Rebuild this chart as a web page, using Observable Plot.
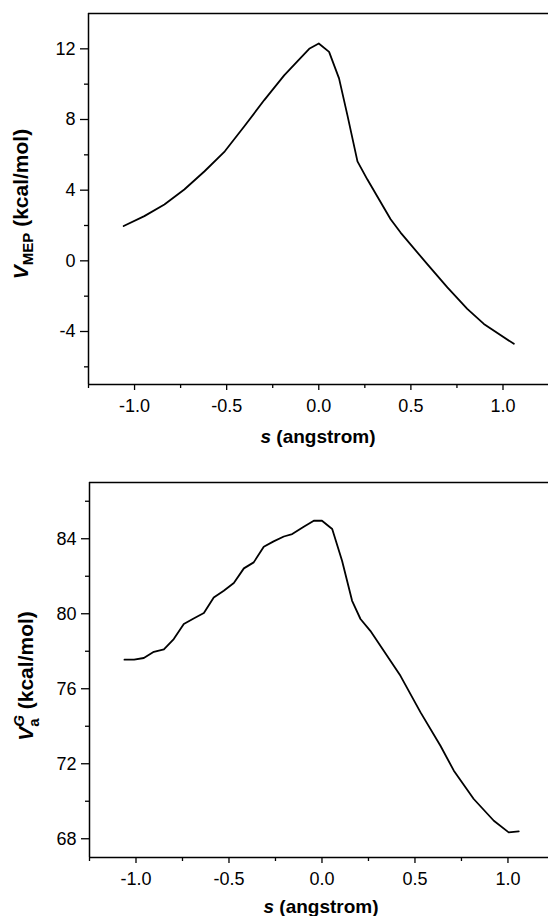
<!DOCTYPE html>
<html>
<head>
<meta charset="utf-8">
<script src="https://cdn.jsdelivr.net/npm/d3@7"></script>
<script src="https://cdn.jsdelivr.net/npm/@observablehq/plot@0.6"></script>
<style>
  html, body { margin: 0; padding: 0; background: #fff; overflow: hidden; }
  svg { display: block; }
</style>
</head>
<body>
<div id="c"></div>
<script>
// Top panel: V_MEP vs s
const sMEP = [-1.059, -0.947, -0.838, -0.73, -0.62, -0.51, -0.405, -0.296, -0.188, -0.115, -0.052, 0.0, 0.056, 0.11, 0.155, 0.21, 0.264, 0.39, 0.444, 0.589, 0.698, 0.806, 0.896, 1.059];
const vMEP = [1.97, 2.53, 3.19, 4.04, 5.07, 6.2, 7.6, 9.1, 10.5, 11.3, 12.0, 12.3, 11.83, 10.33, 8.26, 5.63, 4.6, 2.35, 1.6, -0.19, -1.5, -2.72, -3.57, -4.7];

// Bottom panel: V_a^G vs s
const sVaG = [-1.062, -1.01, -0.958, -0.904, -0.85, -0.797, -0.743, -0.69, -0.635, -0.582, -0.528, -0.474, -0.42, -0.367, -0.313, -0.26, -0.205, -0.16, -0.098, -0.044, 0.0, 0.055, 0.108, 0.162, 0.207, 0.26, 0.422, 0.53, 0.637, 0.709, 0.816, 0.924, 1.004, 1.058];
const vVaG = [77.55, 77.55, 77.64, 77.97, 78.1, 78.65, 79.45, 79.75, 80.04, 80.87, 81.23, 81.64, 82.42, 82.74, 83.57, 83.86, 84.12, 84.25, 84.64, 84.96, 84.96, 84.52, 82.83, 80.69, 79.72, 79.09, 76.69, 74.74, 72.96, 71.63, 70.12, 68.96, 68.34, 68.39];

const xMajor = [-1.0, -0.5, 0.0, 0.5, 1.0];
const xMinor = [-1.25, -0.75, -0.25, 0.25, 0.75];
const yMajorTop = [-4, 0, 4, 8, 12];
const yMinorTop = [-6, -2, 2, 6, 10];
const yMajorBot = [68, 72, 76, 80, 84];
const yMinorBot = [70, 74, 78, 82, 86];

const FONT = "'Liberation Sans', Arial, Helvetica, sans-serif";

function panel(o) {
  const data = o.s.map((s, i) => ({s, v: o.v[i]}));
  const svg = Plot.plot({
    width: 548,
    height: o.height,
    marginLeft: o.marginLeft,
    marginRight: 0,
    marginTop: o.marginTop,
    marginBottom: o.marginBottom,
    style: {fontFamily: FONT, fontSize: "18px", background: "#fff", color: "#000"},
    x: {domain: o.xdomain, label: null},
    y: {domain: o.ydomain, label: null},
    marks: [
      Plot.axisY({ticks: o.yMajor, tickSize: 8, tickPadding: 5, tickFormat: d => String(d), label: null, strokeWidth: 1.3}),
      Plot.axisY({ticks: o.yMinor, tickSize: 4, tickFormat: () => "", label: null, strokeWidth: 1.3}),
      Plot.axisX({ticks: xMajor, tickSize: 6, tickPadding: 9, tickFormat: d => d.toFixed(1), label: null, strokeWidth: 1.3}),
      Plot.axisX({ticks: xMinor, tickSize: 4, tickFormat: () => "", label: null, strokeWidth: 1.3}),
      Plot.ruleX([o.xdomain[0]], {strokeWidth: 1.5}),
      Plot.ruleY(o.ydomain, {strokeWidth: 1.6}),
      Plot.line(data, {x: "s", y: "v", strokeWidth: 1.8, stroke: "#000"})
    ]
  });
  const g = d3.select(svg);
  // y label
  const yl = g.append("text")
    .attr("transform", `translate(${o.ylx},${o.yly}) rotate(-90)`)
    .attr("text-anchor", "middle")
    .attr("font-family", FONT)
    .attr("font-weight", "bold")
    .attr("font-size", 21)
    .attr("fill", "#000");
  o.ylabel(yl);
  // x label
  const xl = g.append("text")
    .attr("x", o.xlx)
    .attr("y", o.xly)
    .attr("text-anchor", "middle")
    .attr("font-family", FONT)
    .attr("font-weight", "bold")
    .attr("font-size", 19)
    .attr("fill", "#000");
  xl.append("tspan").attr("font-style", "italic").text("s");
  xl.append("tspan").text(" (angstrom)");
  return svg;
}

const c = document.getElementById("c");
c.appendChild(panel({
  s: sMEP, v: vMEP,
  height: 450, marginLeft: 88, marginTop: 13, marginBottom: 66,
  xdomain: [-1.25, 1.247], ydomain: [-7, 14],
  yMajor: yMajorTop, yMinor: yMinorTop,
  ylx: 28, yly: 204, xlx: 318, xly: 443,
  ylabel: t => {
    t.append("tspan").attr("font-style", "italic").text("V");
    t.append("tspan").attr("font-size", 15).attr("dy", 5).text("MEP");
    t.append("tspan").attr("dy", -5).text(" (kcal/mol)");
  }
}));
c.appendChild(panel({
  s: sVaG, v: vVaG,
  height: 466, marginLeft: 89, marginTop: 32, marginBottom: 59,
  xdomain: [-1.25, 1.218], ydomain: [67, 87],
  yMajor: yMajorBot, yMinor: yMinorBot,
  ylx: 33, yly: 226, xlx: 321, xly: 463,
  ylabel: t => {
    t.append("tspan").attr("font-style", "italic").text("V");
    t.append("tspan").attr("font-size", 15).attr("dy", 6).text("a");
    t.append("tspan").attr("font-size", 15).attr("font-style", "italic").attr("dx", -8.3).attr("dy", -15).text("G");
    t.append("tspan").attr("dy", 9).text(" (kcal/mol)");
  }
}));
</script>
</body>
</html>
